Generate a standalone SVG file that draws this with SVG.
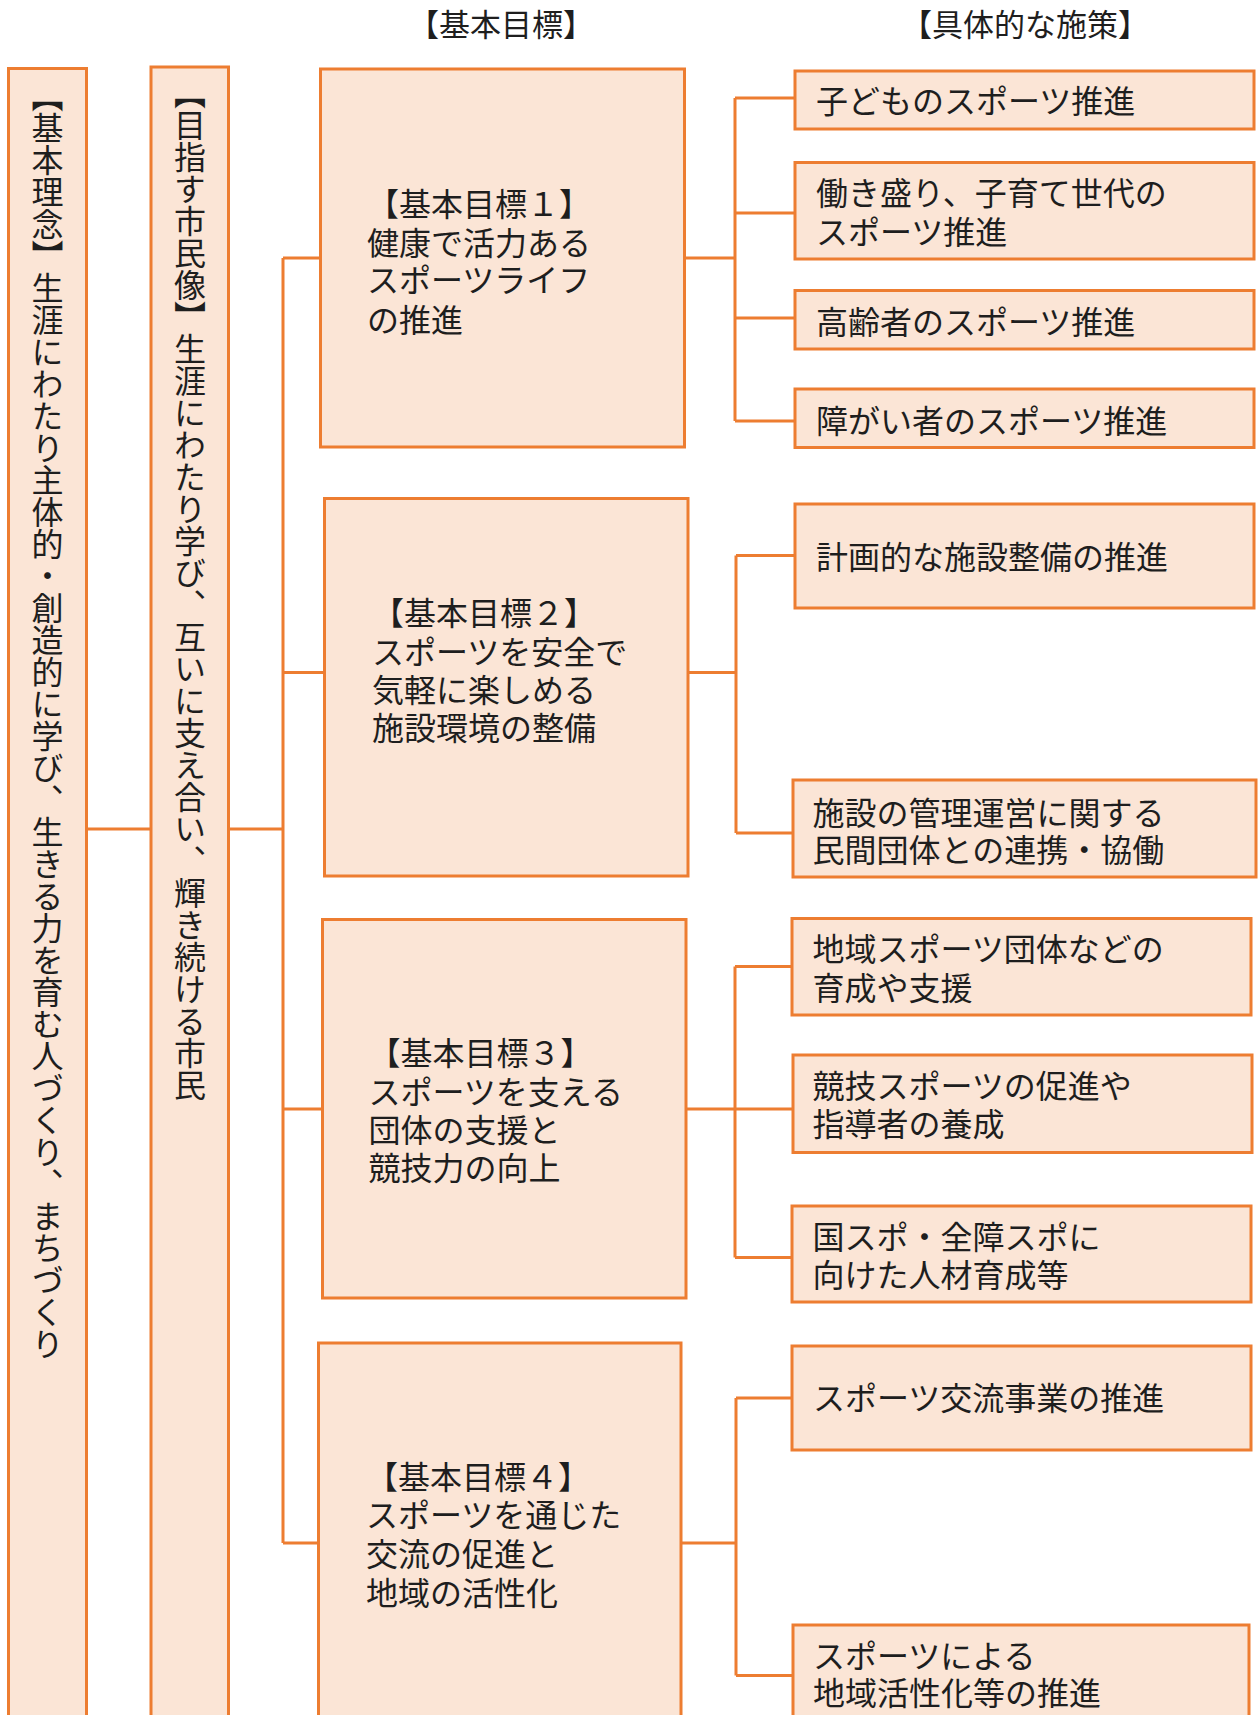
<svg xmlns="http://www.w3.org/2000/svg" width="1260" height="1715" viewBox="0 0 1260 1715">
<style>
.box{fill:#FBE5D6;stroke:#ED7D31;stroke-width:3}
.ln{fill:none;stroke:#ED7D31;stroke-width:3}
text{font-family:"Noto Sans CJK JP","Noto Sans CJK SC",sans-serif;font-size:32px;fill:#1e1e1e}
.hd{font-size:31px;text-anchor:middle}
.vt{writing-mode:vertical-rl;font-size:32px}
</style>
<rect width="1260" height="1715" fill="#ffffff"/>
<text class="hd" x="501" y="36">【基本目標】</text>
<text class="hd" x="1025" y="36">【具体的な施策】</text>
<g id="connectors">
<path class="ln" d="M86.5,829H151M228.5,829H283M283,258V1543M283,258H320.5M283,672.5H324.5M283,1109H322.5M283,1543H318.5"/>
<path class="ln" d="M684.5,258H735M735,98V421M735,98H795M735,213H795M735,318H795M735,421H795"/>
<path class="ln" d="M688,672.5H736M736,555.5V833M736,555.5H795M736,833H793"/>
<path class="ln" d="M686,1109H793M735,966.5V1257.5M735,966.5H792M735,1257.5H792"/>
<path class="ln" d="M681,1543H736M736,1398V1675.5M736,1398H792M736,1675.5H793"/>
</g>
<g id="philosophy">
<rect class="box" x="8.5" y="68.5" width="78" height="1680"/>
<text class="vt" x="47.5" y="80">【基本理念】生涯にわたり主体的・創造的に学び、生きる力を育む人づくり、まちづくり</text>
</g>
<g id="citizen">
<rect class="box" x="151" y="67" width="77.5" height="1680"/>
<text class="vt" x="190" y="77">【目指す市民像】生涯にわたり学び、互いに支え合い、輝き続ける市民</text>
</g>
<g id="goal1">
<rect class="box" x="320.5" y="69" width="364" height="378"/>
<text><tspan x="367" y="216">【基本目標１】</tspan><tspan x="367" y="255">健康で活力ある</tspan><tspan x="367" y="292">スポーツライフ</tspan><tspan x="367" y="332">の推進</tspan></text>
</g>
<g id="goal2">
<rect class="box" x="324.5" y="498.5" width="363.5" height="377.5"/>
<text><tspan x="372" y="625">【基本目標２】</tspan><tspan x="372" y="664">スポーツを安全で</tspan><tspan x="372" y="702">気軽に楽しめる</tspan><tspan x="372" y="740">施設環境の整備</tspan></text>
</g>
<g id="goal3">
<rect class="box" x="322.5" y="919.5" width="363.5" height="378.5"/>
<text><tspan x="368.5" y="1065">【基本目標３】</tspan><tspan x="368.5" y="1103.5">スポーツを支える</tspan><tspan x="368.5" y="1142">団体の支援と</tspan><tspan x="368.5" y="1180">競技力の向上</tspan></text>
</g>
<g id="goal4">
<rect class="box" x="318.5" y="1343" width="362.5" height="420"/>
<text><tspan x="366" y="1489">【基本目標４】</tspan><tspan x="366" y="1527">スポーツを通じた</tspan><tspan x="366" y="1566">交流の促進と</tspan><tspan x="366" y="1605">地域の活性化</tspan></text>
</g>
<g id="m1">
<rect class="box" x="795" y="71" width="459" height="58"/>
<text x="816" y="113">子どものスポーツ推進</text>
</g>
<g id="m2">
<rect class="box" x="795" y="162.5" width="459" height="96.5"/>
<text><tspan x="816" y="205">働き盛り、子育て世代の</tspan><tspan x="816" y="244">スポーツ推進</tspan></text>
</g>
<g id="m3">
<rect class="box" x="795" y="290.5" width="459" height="58.5"/>
<text x="816" y="334">高齢者のスポーツ推進</text>
</g>
<g id="m4">
<rect class="box" x="795" y="389" width="459" height="58.5"/>
<text x="816" y="433">障がい者のスポーツ推進</text>
</g>
<g id="m5">
<rect class="box" x="795" y="504" width="459" height="104"/>
<text x="816" y="568.5">計画的な施設整備の推進</text>
</g>
<g id="m6">
<rect class="box" x="793" y="780" width="463" height="97"/>
<text><tspan x="812.5" y="824.5">施設の管理運営に関する</tspan><tspan x="812.5" y="862">民間団体との連携・協働</tspan></text>
</g>
<g id="m7">
<rect class="box" x="792" y="918.5" width="459" height="96.5"/>
<text><tspan x="812.5" y="961">地域スポーツ団体などの</tspan><tspan x="812.5" y="999.5">育成や支援</tspan></text>
</g>
<g id="m8">
<rect class="box" x="793" y="1055" width="459" height="97.5"/>
<text><tspan x="812.5" y="1098">競技スポーツの促進や</tspan><tspan x="812.5" y="1136">指導者の養成</tspan></text>
</g>
<g id="m9">
<rect class="box" x="792" y="1206" width="459" height="96"/>
<text><tspan x="812.5" y="1249">国スポ・全障スポに</tspan><tspan x="812.5" y="1287">向けた人材育成等</tspan></text>
</g>
<g id="m10">
<rect class="box" x="792" y="1346" width="459" height="104"/>
<text x="813" y="1410">スポーツ交流事業の推進</text>
</g>
<g id="m11">
<rect class="box" x="793" y="1625" width="456" height="140"/>
<text><tspan x="813" y="1668">スポーツによる</tspan><tspan x="813" y="1705">地域活性化等の推進</tspan></text>
</g>
</svg>
